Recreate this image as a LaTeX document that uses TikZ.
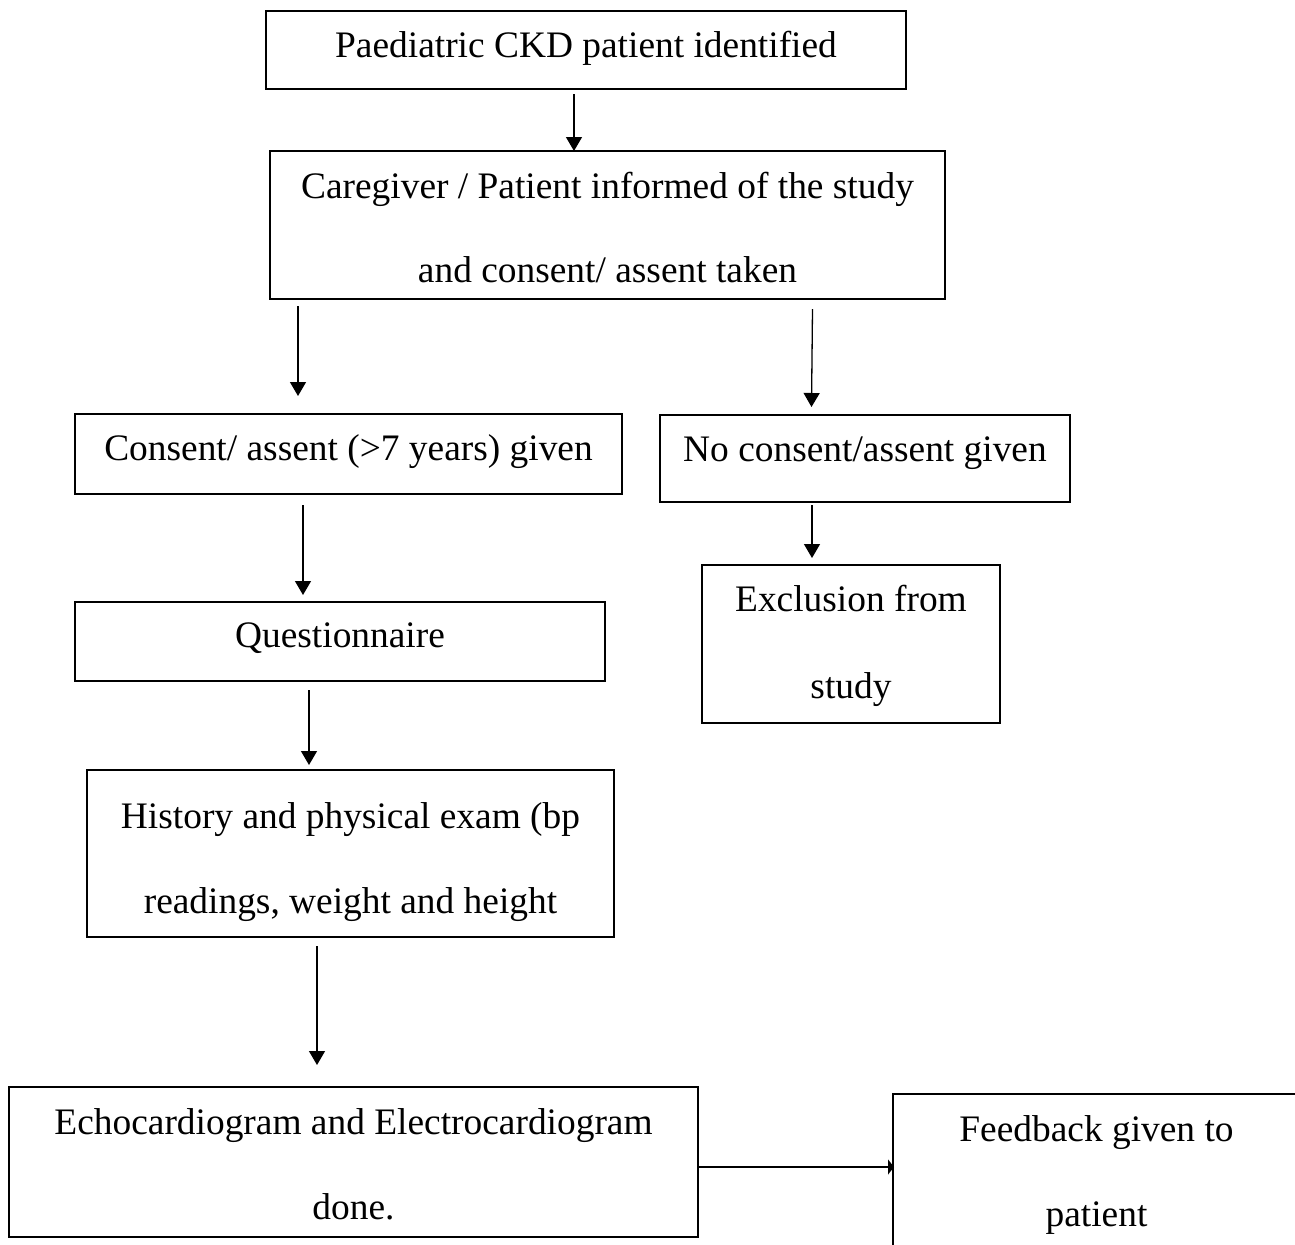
\documentclass[tikz,border=0pt]{standalone}
\usepackage{fontspec}
\setmainfont{Liberation Serif}
\usetikzlibrary{arrows.meta}
\begin{document}
\begin{tikzpicture}[x=1bp,y=-1bp,
  box/.style={draw, line width=2.6bp, rectangle, inner sep=0pt},
  txt/.style={anchor=base, inner sep=0pt, font=\fontsize{37.4bp}{44bp}\selectfont},
  arr/.style={line width=1.3bp, -{Triangle[length=14bp,width=16bp]}}]
\clip (0,0) rectangle (1295,1245);
\fill[white] (0,0) rectangle (1295,1245);
% boxes
\node[box, minimum width=640bp, minimum height=78bp] (b1) at (586,50) {};
\node[box, minimum width=675bp, minimum height=148bp] (b2) at (607.5,225) {};
\node[box, minimum width=547bp, minimum height=80bp] (b3) at (348.5,454) {};
\node[box, minimum width=410bp, minimum height=87bp] (b4) at (865,458.5) {};
\node[box, minimum width=298bp, minimum height=158bp] (b5) at (851,644) {};
\node[box, minimum width=530bp, minimum height=79bp] (b6) at (340,641.5) {};
\node[box, minimum width=527bp, minimum height=167bp] (b7) at (350.5,853.5) {};
\node[box, minimum width=689bp, minimum height=150bp] (b8) at (353.5,1162) {};
\node[box, minimum width=407bp, minimum height=166bp] (b9) at (1096.5,1177) {};
% texts
\node[txt] (t1) at (586,57) {Paediatric CKD patient identified};
\node[txt] (t2a) at (607.5,198) {Caregiver / Patient informed of the study};
\node[txt] (t2b) at (607.5,282) {and consent/ assent taken};
\node[txt] (t3) at (348.5,460) {Consent/ assent (>7 years) given};
\node[txt] (t4) at (865,461) {No consent/assent given};
\node[txt] (t5a) at (851,611) {Exclusion from};
\node[txt] (t5b) at (851,698) {study};
\node[txt] (t6) at (340,647) {Questionnaire};
\node[txt] (t7a) at (350.5,828) {History and physical exam (bp};
\node[txt] (t7b) at (350.5,913) {readings, weight and height};
\node[txt] (t8a) at (353.5,1134) {Echocardiogram and Electrocardiogram};
\node[txt] (t8b) at (353.5,1219) {done.};
\node[txt] (t9a) at (1096.5,1141) {Feedback given to};
\node[txt] (t9b) at (1096.5,1226) {patient};
% connector ends
\coordinate (a1s) at (574,94);   \coordinate (a1e) at (574,151);
\coordinate (a2s) at (298,306);  \coordinate (a2e) at (298,396);
\coordinate (a3s) at (812.5,309); \coordinate (a3e) at (811.5,407);
\coordinate (a4s) at (812,505);  \coordinate (a4e) at (812,558);
\coordinate (a5s) at (303,505);  \coordinate (a5e) at (303,595);
\coordinate (a6s) at (309,690);  \coordinate (a6e) at (309,765);
\coordinate (a7s) at (317,946);  \coordinate (a7e) at (317,1065);
\coordinate (a8s) at (698,1167); \coordinate (a8e) at (894,1167);
\draw[arr] (a1s) -- (a1e);
\draw[arr] (a2s) -- (a2e);
\draw[arr] (a3s) -- (a3e);
\draw[arr] (a4s) -- (a4e);
\draw[arr] (a5s) -- (a5e);
\draw[arr] (a6s) -- (a6e);
\draw[arr] (a7s) -- (a7e);
\draw[line width=1.3bp, -{Triangle[length=6bp,width=15bp]}] (a8s) -- (a8e);
\end{tikzpicture}
\end{document}
